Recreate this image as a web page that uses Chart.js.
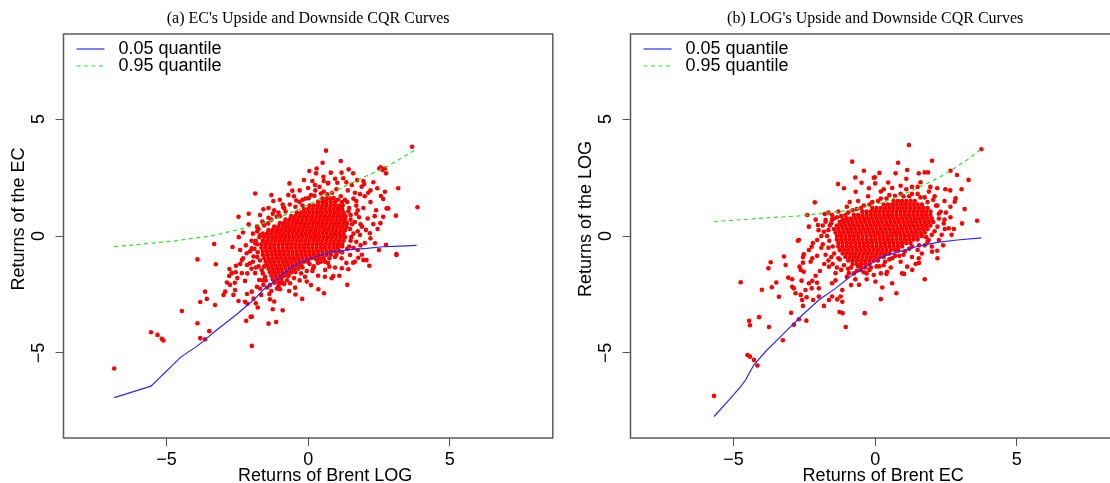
<!DOCTYPE html>
<html lang="en">
<head>
<meta charset="UTF-8">
<title>Upside and Downside CQR Curves</title>
<script src="https://cdn.jsdelivr.net/npm/chart.js"></script>
<style>
  html, body { margin: 0; padding: 0; background: #fff; overflow: hidden; }
  #wrap { position: relative; width: 1110px; height: 483px; overflow: hidden; }
  canvas { position: absolute; top: 0; }
  #chartA { left: 0; }
  #chartB { left: 567px; }
</style>
</head>
<body>
<div id="wrap">
  <canvas id="chartA" width="560" height="483"></canvas>
  <canvas id="chartB" width="620" height="483"></canvas>
</div>

<script>
// tick marks on both axes
const axisTicks = [-5, 0, 5];

// (a) EC against Brent LOG: fitted 0.05 / 0.95 quantile curves
const ecQ05X = [-6.85, -5.55, -4.50, -3.91, -3.23, -2.52, -1.93, -1.59, -1.11, -0.64, -0.29, 0.06, 0.88, 1.48, 2.07, 2.64, 3.24, 3.83];
const ecQ05Y = [-6.91, -6.42, -5.18, -4.70, -4.02, -3.35, -2.74, -2.31, -1.85, -1.38, -1.13, -0.96, -0.67, -0.58, -0.53, -0.46, -0.43, -0.40];
const ecQ95X = [-6.85, -5.8, -4.65, -3.45, -2.5, -1.9, -1.45, -0.3, 0.9, 1.85, 2.75, 3.25, 3.83];
const ecQ95Y = [-0.46, -0.34, -0.2, 0.0, 0.26, 0.45, 0.6, 1.15, 1.9, 2.45, 2.95, 3.3, 3.72];

// (a) scattered returns [x, y]
const ecPoints = [
  [-6.85,-5.67],[-5.55,-4.12],[-5.32,-4.23],[-5.17,-4.40],[-5.11,-4.47],[-4.46,-3.21],[-3.91,-3.73],[-3.81,-4.37],
  [-3.64,-4.42],[-3.49,-4.07],[-3.91,-1.0],[-3.81,-2.82],[-3.64,-2.38],[-3.58,-2.69],[-3.29,-2.95],[-3.32,-0.34],
  [-3.26,-1.21],[-2.67,-0.47],[-1.99,-4.70],[-2.19,-3.63],[-2.03,-3.46],[-1.40,-3.75],[-1.13,-3.68],[-1.25,-3.13],
  [-0.90,-3.18],[-1.78,-3.06],[-1.85,-2.88],[-1.93,-2.68],[-2.23,-2.81],[-2.46,-2.78],[-2.64,-2.52],[-2.99,-2.52],
  [-2.93,-2.38],[-2.76,-2.09],[-2.87,-1.99],[-2.79,-1.71],[-2.70,-1.59],[-2.56,-1.55],[-2.55,-1.27],[-2.40,-1.20],
  [-2.34,-1.59],[-2.23,-1.92],[-2.16,-1.24],[-2.34,-1.03],[-2.78,-1.41],[-2.59,-2.0],[-2.58,-2.31],[-2.16,-2.48],
  [-1.99,-2.38],[-1.81,-2.17],[-1.66,-2.52],[-1.37,-2.48],[-1.35,-2.71],[-0.99,-2.28],[-0.67,-2.35],[-0.46,-2.21],
  [-0.21,-2.69],[-0.11,-1.74],[-0.64,-2.02],[-0.99,-2.02],[-1.58,-2.09],[-1.73,-1.88],[-1.52,-1.74],[-1.64,-1.45],
  [-1.87,-1.59],[-2.05,-1.17],[-1.93,-0.88],[-2.17,-0.74],[-1.99,-0.53],[-1.87,-0.31],[-1.70,0.04],[-1.81,0.40],
  [-1.58,0.54],[0.63,3.65],[3.67,3.82],[1.15,3.21],[0.51,3.13],[1.43,2.85],[0.04,2.78],[0.30,2.89],[0.28,2.68],
  [0.80,2.71],[1.18,2.71],[0.54,2.53],[-0.15,2.39],[-0.66,2.25],[-1.87,1.82],[-0.56,1.94],[0.24,2.18],[0.71,2.28],
  [1.03,2.28],[1.24,2.47],[1.59,2.68],[1.73,2.39],[1.95,2.35],[1.98,2.22],[1.89,2.11],[1.54,2.18],[2.71,2.89],
  [2.56,2.94],[2.75,2.68],[3.18,2.04],[2.44,2.04],[2.71,1.89],[2.57,1.71],[2.65,1.58],[2.12,1.85],[1.83,1.79],
  [2.83,1.18],[3.10,0.87],[3.86,1.23],[2.65,0.82],[2.30,0.51],[2.04,0.26],[2.18,0.12],[1.83,0.04],[2.36,-0.31],
  [3.12,-0.77],[2.75,-0.38],[2.06,-1.03],[2.16,-1.27],[1.77,-0.93],[1.48,-0.81],[1.18,-0.95],[1.65,-1.10],
  [0.89,-1.71],[0.59,-1.74],[1.19,-1.38],[0.75,-1.31],[0.18,-1.38],[0.45,-1.10],[-1.70,0.90],[-1.58,1.14],
  [-1.23,1.50],[-0.88,1.23],[-1.11,0.82],[-1.41,0.54],[-2.46,0.82],[-1.99,-3.45],[0.36,-2.28],[0.56,-2.45],
  [0.83,-1.81],[1.38,-2.09],[1.42,-1.42],[1.59,-1.14],[1.95,-1.03],[2.77,1.18],[3.12,-0.81],[2.51,2.89],[2.63,2.82],
  [1.7,1.5],[1.95,1.2],[2.2,1.45],[2.4,1.1],[2.1,0.75],[1.85,0.5],[2.45,0.3],[1.7,0.95],[2.0,1.7],[2.3,2.3],
  [1.65,1.85],[1.4,1.95],[2.55,0.55],[2.2,-0.1],[1.85,-0.4],[2.5,-0.6],[1.6,-0.5],
  [-0.45,1.25],[-0.3,1.45],[-0.1,1.6],[0.1,1.75],[0.25,1.95],[0.4,2.1],[0.55,1.9],[0.85,1.85],[1.0,2.0],[1.15,1.7],
  [1.3,1.55],[1.45,1.2],[1.5,0.9],[1.55,0.5],[1.6,0.1],[1.5,-0.2],[1.45,-0.45],[-0.8,1.05],[-1.0,0.85],[-1.3,0.7],
  [-1.55,0.45],[-1.8,0.2],[-1.85,-0.2],[-1.9,-0.55],[-1.8,-0.9],[-1.75,-1.3],[-1.6,-1.6],[-1.5,-1.9],[-1.45,-2.2],
  [-1.1,-2.25],[-0.95,-1.75],[-0.7,-1.7],[-0.45,-1.55],[-0.2,-1.35],[0.05,-1.2],[0.3,-1.0],[0.55,-0.95],[0.7,-1.15],
  [1.0,-0.8],[1.2,-0.7],[0.15,-1.5],[-0.3,-1.9],[0.6,1.45],[1.2,1.45],[-0.2,1.3],[0.0,2.05],[0.7,2.25],[1.7,1.3],
  [1.8,0.8],[1.9,0.4],[2.0,-0.3],[1.75,-0.6],[-2.1,0.5],[-2.2,-0.4],[-2.0,-1.4],[-2.3,-0.95],[-0.9,1.35],[-1.2,1.1],
  [-0.5,1.7],
  [-1.75,0.3],[-1.62,0.62],[-1.4,0.78],[-1.25,0.95],[-1.05,1.0],[-0.85,1.2],[-0.65,1.35],[-0.42,1.52],[-0.2,1.55],
  [0.02,1.62],[0.22,1.72],[0.45,1.82],[0.68,1.78],[0.9,1.62],[1.05,1.55],[1.38,1.45],[1.42,1.05],[1.5,0.7],[1.48,0.3],
  [1.52,-0.05],[1.38,-0.55],[1.2,-0.45],[1.1,-0.65],[0.95,-0.9],[0.75,-0.95],[0.6,-1.1],[0.35,-1.15],[0.2,-1.3],
  [-0.05,-1.5],[-0.25,-1.6],[-0.5,-1.8],[-0.75,-1.9],[-0.6,-1.55],[-0.85,-2.05],[-1.05,-2.15],[-1.35,-2.1],[-1.6,-1.9],
  [-1.55,-1.3],[-1.7,-1.05],[-1.78,-0.7],[-1.8,-0.35],[-1.72,-0.05],[-1.95,0.1],[-2.0,-0.2],[-2.05,-0.65],[-1.95,-1.1],
  [-1.85,-1.35],[-1.7,-2.25],[-1.3,-2.35],[-2.15,-1.6],[-2.4,-0.6],[-2.3,0.15],[-2.1,0.95],[-1.4,1.2],[-1.0,1.55],
  [-0.7,1.75],[-0.3,1.95],[0.15,2.35],[0.55,2.35],[0.95,2.45],[1.35,2.3],[1.6,1.6],[1.75,1.1],[1.65,0.6],[1.75,0.2],
  [1.7,-0.25],[1.9,-0.8],[1.35,-1.15],[0.95,-1.35],[0.6,-1.45],[0.35,-1.7],[-0.05,-1.95],[-0.45,-2.5],[0.1,-2.1],
  [1.1,-1.7],[-2.5,-1.8],[-2.15,-2.9],[-1.2,-2.8],[2.35,0.85],[2.2,1.95],[-1.3,1.75],[-2.45,-0.05]
];

// (a) dense centre of the cloud, one row per y value: [y, x, x, ...]
const ecCoreRows = [
  [1.6, 0.5,0.65,0.78],
  [1.45, 0.35,0.5,0.65,0.8,0.95],
  [1.3, 0.05,0.2,0.35,0.5,0.65,0.8,0.95,1.1,1.22],
  [1.15, -0.15,0,0.15,0.3,0.45,0.6,0.75,0.9,1.05,1.2],
  [1.0, -0.4,-0.25,-0.1,0.05,0.2,0.35,0.5,0.65,0.8,0.95,1.1,1.25],
  [0.85, -0.6,-0.45,-0.3,-0.15,0,0.15,0.3,0.45,0.6,0.75,0.9,1.05,1.2,1.32],
  [0.7, -0.8,-0.65,-0.5,-0.35,-0.2,-0.05,0.1,0.25,0.4,0.55,0.7,0.85,1,1.15,1.3],
  [0.55, -1,-0.85,-0.7,-0.55,-0.4,-0.25,-0.1,0.05,0.2,0.35,0.5,0.65,0.8,0.95,1.1,1.25,1.37],
  [0.4, -1.2,-1.05,-0.9,-0.75,-0.6,-0.45,-0.3,-0.15,0,0.15,0.3,0.45,0.6,0.75,0.9,1.05,1.2,1.35],
  [0.25, -1.4,-1.25,-1.1,-0.95,-0.8,-0.65,-0.5,-0.35,-0.2,-0.05,0.1,0.25,0.4,0.55,0.7,0.85,1,1.15,1.3],
  [0.1, -1.6,-1.45,-1.3,-1.15,-1,-0.85,-0.7,-0.55,-0.4,-0.25,-0.1,0.05,0.2,0.35,0.5,0.65,0.8,0.95,1.1,1.25],
  [-0.05, -1.55,-1.4,-1.25,-1.1,-0.95,-0.8,-0.65,-0.5,-0.35,-0.2,-0.05,0.1,0.25,0.4,0.55,0.7,0.85,1,1.15,1.3],
  [-0.2, -1.6,-1.45,-1.3,-1.15,-1,-0.85,-0.7,-0.55,-0.4,-0.25,-0.1,0.05,0.2,0.35,0.5,0.65,0.8,0.95,1.1,1.25],
  [-0.35, -1.65,-1.5,-1.35,-1.2,-1.05,-0.9,-0.75,-0.6,-0.45,-0.3,-0.15,0,0.15,0.3,0.45,0.6,0.75,0.9,1.05,1.2],
  [-0.5, -1.65,-1.5,-1.35,-1.2,-1.05,-0.9,-0.75,-0.6,-0.45,-0.3,-0.15,0,0.15,0.3,0.45,0.6,0.75,0.9,1.05],
  [-0.65, -1.6,-1.45,-1.3,-1.15,-1,-0.85,-0.7,-0.55,-0.4,-0.25,-0.1,0.05,0.2,0.35,0.5,0.65,0.8,0.95],
  [-0.8, -1.6,-1.45,-1.3,-1.15,-1,-0.85,-0.7,-0.55,-0.4,-0.25,-0.1,0.05,0.2,0.35,0.5,0.65,0.8],
  [-0.95, -1.55,-1.4,-1.25,-1.1,-0.95,-0.8,-0.65,-0.5,-0.35,-0.2,-0.05,0.1,0.25,0.4],
  [-1.1, -1.5,-1.35,-1.2,-1.05,-0.9,-0.75,-0.6,-0.45,-0.3,-0.15,0],
  [-1.25, -1.45,-1.3,-1.15,-1,-0.85,-0.7,-0.55,-0.4,-0.25],
  [-1.4, -1.4,-1.25,-1.1,-0.95,-0.8,-0.65,-0.5,-0.35],
  [-1.55, -1.35,-1.2,-1.05,-0.9,-0.75,-0.6],
  [-1.7, -1.3,-1.15,-1,-0.85,-0.7],
  [-1.85, -1.25,-1.1,-0.95],
  [-2.0, -1.2,-1.05,-0.9]
];

// (b) LOG against Brent EC: fitted 0.05 / 0.95 quantile curves
const logQ05X = [-5.69, -5.16, -4.75, -4.57, -4.45, -4.28, -3.87, -3.28, -2.57, -1.99, -1.40, -0.81, -0.22, 0.25, 0.9, 1.5, 2.2, 2.9, 3.75];
const logQ05Y = [-7.72, -7.01, -6.44, -6.15, -5.87, -5.51, -4.94, -4.23, -3.38, -2.74, -2.24, -1.67, -1.24, -0.88, -0.66, -0.44, -0.27, -0.17, -0.08];
const logQ95X = [-5.69, -4.7, -3.75, -2.7, -1.75, -0.9, -0.3, 0.3, 0.84, 1.4, 2.0, 2.4, 2.8, 3.3, 3.75];
const logQ95Y = [0.62, 0.70, 0.78, 0.86, 0.98, 1.1, 1.25, 1.45, 1.7, 2.0, 2.35, 2.6, 2.9, 3.3, 3.72];

// (b) scattered returns [x, y]
const logPoints = [
  [-5.69,-6.84],[-4.51,-5.09],[-4.42,-5.16],[-4.28,-5.30],[-4.16,-5.54],[-4.75,-1.98],[-4.45,-3.63],[-4.42,-3.82],
  [-4.10,-3.47],[-3.75,-3.89],[-3.26,-4.46],[-2.97,-3.28],[-2.87,-3.80],[-2.69,-3.56],[-2.43,-3.62],[-1.04,-3.89],
  [-1.26,-3.25],[-0.37,-3.30],[-3.69,-1.12],[-3.77,-1.38],[-3.65,-2.19],[-3.49,-1.99],[-3.22,-0.88],[-3.16,-1.24],
  [-2.73,-0.20],[-2.34,0.40],[-2.02,0.47],[-2.13,1.44],[-3.07,-1.78],[-2.93,-1.85],[-2.87,-2.24],[-2.81,-2.45],
  [-2.63,-2.52],[-2.58,-2.74],[-2.55,-2.99],[-2.42,-2.62],[-2.19,-2.74],[-1.99,-2.59],[-1.81,-2.99],[-1.63,-2.74],
  [-1.34,-2.71],[-1.22,-2.59],[-1.16,-2.81],[-1.52,-2.59],[-2.60,-1.91],[-2.46,-2.31],[-2.24,-2.24],[-2.67,-1.31],
  [-2.52,-1.53],[-2.22,-1.92],[-2.05,-2.0],[-2.10,-1.70],[-2.52,-0.78],[-2.24,-0.46],[-2.55,-1.14],[-1.75,0.68],
  [-1.52,0.90],[1.19,3.89],[3.75,3.71],[-0.81,3.18],[0.81,3.13],[2.01,3.22],[-0.40,2.79],[0.72,2.68],[1.13,2.82],
  [1.54,2.68],[1.75,2.72],[1.87,2.72],[2.66,2.79],[2.89,2.61],[-0.01,2.51],[0.46,2.29],[-1.31,2.22],[-0.48,2.28],
  [-0.22,2.04],[-0.69,1.89],[-1.10,2.04],[-1.78,0.94],[-1.52,0.71],[-1.14,0.71],[2.48,2.0],[2.19,2.04],[2.81,1.47],
  [3.16,1.15],[2.66,0.80],[3.07,0.54],[3.60,0.65],[2.46,0.30],[2.78,0.30],[2.19,-0.63],[1.89,-0.17],[1.43,-1.20],
  [1.13,-1.31],[1.75,-1.85],[0.42,-1.53],[-0.05,-1.67],[-0.05,2.49],[-2.69,-0.17],[0.75,-2.45],[1.02,-1.62],
  [0.40,-1.62],[2.66,1.25],[2.84,1.61],[2.31,1.04],[2.42,0.54],[2.60,0.33],[2.25,-0.17],[2.01,-0.67],[1.54,-0.95],
  [1.31,-1.45],[0.60,-2.02],[0.01,-1.95],[-0.57,-2.09],[-1.16,-2.31],[-1.52,-2.02],[-1.99,-2.24],[-2.34,-2.02],
  [-2.93,-2.17],[-2.63,-1.45],[-2.28,-1.10],[-2.34,-0.60],[-2.05,-0.17],[-1.81,0.18],[-1.75,0.61],[-2.22,-0.95],
  [-1.63,-1.31],[-1.40,-1.59],[-0.93,-1.59],[-0.51,-1.45],
  [-1.6,0.45],[-1.7,0.0],[-1.65,-0.5],[-1.55,-0.9],[-1.5,-1.2],[-1.25,-1.0],[-1.2,-1.45],[-0.95,-1.4],[-0.75,-1.6],
  [-0.6,-1.3],[-0.3,-1.6],[-0.15,-1.35],[0.05,-1.3],[0.3,-1.25],[0.5,-1.0],[0.7,-0.85],[1.0,-0.8],[1.2,-0.55],
  [1.5,-0.6],[1.75,-0.4],[1.8,-0.05],[2.1,0.2],[2.25,0.75],[2.2,1.3],[2.05,1.55],[1.75,1.65],[1.5,1.8],[1.2,1.7],
  [0.9,1.8],[0.5,1.75],[0.2,1.6],[-0.1,1.45],[-0.4,1.3],[-0.65,1.15],[-0.95,1.0],[-1.2,0.85],[-1.45,0.75],[0.3,2.0],
  [0.9,2.15],[1.3,2.1],[1.9,1.9],[-0.9,1.45],[-1.9,-0.5],[-2.0,0.25],[2.5,1.0],[2.4,-0.4],[0.0,2.25],[1.6,2.3],
  [-1.8,-1.2],
  [-1.65,0.25],[-1.62,-0.2],[-1.5,-0.45],[-1.45,-0.75],[-1.3,-0.95],[-1.1,-1.25],[-0.85,-1.35],[-0.65,-1.5],[-0.4,-1.55],
  [-0.2,-1.45],[0.15,-1.3],[0.35,-1.1],[0.6,-0.95],[0.85,-0.85],[1.05,-0.65],[1.3,-0.45],[1.55,-0.4],[1.85,-0.25],
  [2.0,0.05],[2.2,0.4],[2.25,0.95],[2.15,1.3],[2.1,1.7],[1.85,1.45],[1.6,1.65],[1.3,1.8],[1.0,1.7],[0.7,1.72],[0.4,1.6],
  [0.1,1.5],[-0.2,1.35],[-0.5,1.2],[-0.8,1.1],[-1.05,0.9],[-1.35,0.8],[-1.55,0.55],[-1.85,0.45],[-1.9,0.0],[-1.85,-0.35],
  [-1.75,-0.8],[-1.65,-1.05],[-1.35,-1.35],[-1.0,-1.75],[-0.7,-1.85],[-0.3,-1.85],[0.2,-1.6],[0.55,-1.35],[0.9,-1.1],
  [1.3,-0.9],[1.65,-0.75],[2.0,-0.45],[2.35,0.05],[2.45,0.7],[2.45,1.5],[1.95,2.1],[1.5,2.1],[1.1,2.0],[0.6,2.05],
  [0.2,1.9],[-0.25,1.7],[-0.6,1.5],[-1.0,1.25],[-1.3,1.05],[-1.65,1.0],[-2.1,0.7],[-2.2,-0.3],[-2.05,-0.85],[-1.95,-1.5],
  [-1.4,-1.9],[-0.85,-2.1],[0.25,-2.2],[0.95,-1.6],[1.55,-1.15],[2.2,-0.95],[2.7,0.05],[2.65,1.95],[1.1,2.45],[0.15,2.7],
  [-0.7,2.5],[-2.4,0.9],[-2.55,-0.9],[-1.15,-3.3],[0.2,-2.7],[-3.4,-2.6],[-4.0,-2.3],[3.3,2.4],[3.05,2.0]
];

// (b) dense centre of the cloud, one row per y value: [y, x, x, ...]
const logCoreRows = [
  [1.5, 0.65,0.8,0.95,1.1,1.25,1.4],
  [1.35, 0.3,0.45,0.6,0.75,0.9,1.05,1.2,1.35,1.5,1.65],
  [1.2, -0.1,0.05,0.2,0.35,0.5,0.65,0.8,0.95,1.1,1.25,1.4,1.55,1.7,1.85],
  [1.05, -0.45,-0.3,-0.15,0,0.15,0.3,0.45,0.6,0.75,0.9,1.05,1.2,1.35,1.5,1.65,1.8,1.95],
  [0.9, -0.75,-0.6,-0.45,-0.3,-0.15,0,0.15,0.3,0.45,0.6,0.75,0.9,1.05,1.2,1.35,1.5,1.65,1.8,1.95],
  [0.75, -1,-0.85,-0.7,-0.55,-0.4,-0.25,-0.1,0.05,0.2,0.35,0.5,0.65,0.8,0.95,1.1,1.25,1.4,1.55,1.7,1.85,2],
  [0.6, -1.25,-1.1,-0.95,-0.8,-0.65,-0.5,-0.35,-0.2,-0.05,0.1,0.25,0.4,0.55,0.7,0.85,1,1.15,1.3,1.45,1.6,1.75,1.9,2.05],
  [0.45, -1.35,-1.2,-1.05,-0.9,-0.75,-0.6,-0.45,-0.3,-0.15,0,0.15,0.3,0.45,0.6,0.75,0.9,1.05,1.2,1.35,1.5,1.65,1.8,1.95],
  [0.3, -1.45,-1.3,-1.15,-1,-0.85,-0.7,-0.55,-0.4,-0.25,-0.1,0.05,0.2,0.35,0.5,0.65,0.8,0.95,1.1,1.25,1.4,1.55,1.7,1.85],
  [0.15, -1.4,-1.25,-1.1,-0.95,-0.8,-0.65,-0.5,-0.35,-0.2,-0.05,0.1,0.25,0.4,0.55,0.7,0.85,1,1.15,1.3,1.45,1.6,1.75],
  [0, -1.35,-1.2,-1.05,-0.9,-0.75,-0.6,-0.45,-0.3,-0.15,0,0.15,0.3,0.45,0.6,0.75,0.9,1.05,1.2,1.35,1.5,1.65],
  [-0.15, -1.35,-1.2,-1.05,-0.9,-0.75,-0.6,-0.45,-0.3,-0.15,0,0.15,0.3,0.45,0.6,0.75,0.9,1.05,1.2,1.35,1.5],
  [-0.3, -1.3,-1.15,-1,-0.85,-0.7,-0.55,-0.4,-0.25,-0.1,0.05,0.2,0.35,0.5,0.65,0.8,0.95,1.1,1.25],
  [-0.45, -1.3,-1.15,-1,-0.85,-0.7,-0.55,-0.4,-0.25,-0.1,0.05,0.2,0.35,0.5,0.65,0.8,0.95],
  [-0.6, -1.25,-1.1,-0.95,-0.8,-0.65,-0.5,-0.35,-0.2,-0.05,0.1,0.25,0.4,0.55,0.7,0.82],
  [-0.75, -1.15,-1,-0.85,-0.7,-0.55,-0.4,-0.25,-0.1,0.05,0.2,0.35,0.5],
  [-0.9, -1.05,-0.9,-0.75,-0.6,-0.45,-0.3,-0.15,0,0.15,0.3],
  [-1.05, -0.95,-0.8,-0.65,-0.5,-0.35,-0.2,-0.05,0.1],
  [-1.2, -0.8,-0.65,-0.5,-0.35,-0.2],
  [-1.35, -0.5,-0.35]
];

const Q05_COLOR = 'rgb(40, 40, 255)';
const Q95_COLOR = 'rgb(40, 225, 40)';
const POINT_COLOR = '#ff0000';

Chart.defaults.font.family = '"Liberation Sans", Arial, sans-serif';
Chart.defaults.color = '#000';

function tickText(v) {
  return v < 0 ? '\u2212' + Math.abs(v) : String(v);
}

function curve(xs, ys) {
  return xs.map((x, i) => ({ x: x, y: ys[i] }));
}

function cloud(points, rows) {
  const out = points.map(p => ({ x: p[0], y: p[1] }));
  rows.forEach(r => {
    for (let i = 1; i < r.length; i++) out.push({ x: r[i], y: r[0] });
  });
  return out;
}

// frame, title, rotated y labels, axis titles and the legend (R base graphics look)
const panelDecor = {
  id: 'panelDecor',
  afterDraw(chart, args, opts) {
    const { ctx, chartArea: a } = chart;
    const xs = chart.scales.x, ys = chart.scales.y;
    ctx.save();

    ctx.strokeStyle = '#5a5a5a';
    ctx.lineWidth = 1.5;
    ctx.strokeRect(a.left, a.top, a.right - a.left, a.bottom - a.top);

    ctx.fillStyle = '#000';
    ctx.textAlign = 'center';
    ctx.textBaseline = 'middle';
    ctx.font = '16px "Liberation Serif", "Times New Roman", serif';
    ctx.fillText(opts.title, xs.getPixelForValue(0), 19);

    ctx.font = '18px "Liberation Sans", Arial, sans-serif';
    axisTicks.forEach(v => {
      ctx.save();
      ctx.translate(a.left - 24, ys.getPixelForValue(v));
      ctx.rotate(-Math.PI / 2);
      ctx.fillText(tickText(v), 0, 0);
      ctx.restore();
    });

    ctx.fillText(opts.xTitle, xs.getPixelForValue(0) + opts.xTitleShift, 476);
    ctx.save();
    ctx.translate(a.left - 44, 219);
    ctx.rotate(-Math.PI / 2);
    ctx.fillText(opts.yTitle, 0, 0);
    ctx.restore();

    // legend, no box
    const lx = a.left + 13, tx = a.left + 55;
    ctx.lineWidth = 1.2;
    ctx.strokeStyle = Q05_COLOR;
    ctx.beginPath(); ctx.moveTo(lx, 49); ctx.lineTo(lx + 28, 49); ctx.stroke();
    ctx.strokeStyle = Q95_COLOR;
    ctx.setLineDash([4, 3.5]);
    ctx.beginPath(); ctx.moveTo(lx, 66); ctx.lineTo(lx + 28, 66); ctx.stroke();
    ctx.setLineDash([]);
    ctx.textAlign = 'left';
    ctx.fillText('0.05 quantile', tx, 49);
    ctx.fillText('0.95 quantile', tx, 66);

    ctx.restore();
  }
};

function makeChart(id, q05, q95, points, padRight, decor) {
  const axis = (fit) => ({
    type: 'linear',
    min: -8.64,
    max: 8.64,
    afterBuildTicks: s => { s.ticks = axisTicks.map(v => ({ value: v })); },
    afterFit: fit,
    border: { display: false },
    grid: { drawOnChartArea: false, drawTicks: true, tickLength: 8, color: '#555', lineWidth: 1 }
  });

  const xAxis = axis(s => { s.height = 45; });
  xAxis.ticks = { font: { size: 18 }, color: '#000', padding: 3, maxRotation: 0, autoSkip: false, callback: v => tickText(v) };
  const yAxis = axis(s => { s.width = 63.5; });
  yAxis.ticks = { display: false };

  return new Chart(document.getElementById(id), {
    type: 'scatter',
    data: {
      datasets: [
        { label: '0.05 quantile', data: q05, showLine: true, borderColor: Q05_COLOR, borderWidth: 1.2,
          pointRadius: 0, fill: false, tension: 0, order: 0 },
        { label: '0.95 quantile', data: q95, showLine: true, borderColor: Q95_COLOR, borderWidth: 1.2,
          borderDash: [4, 3.5], pointRadius: 0, fill: false, tension: 0, order: 0 },
        { label: 'returns', data: points, backgroundColor: POINT_COLOR, borderWidth: 0,
          pointRadius: 2.3, pointHoverRadius: 2.3, order: 1 }
      ]
    },
    options: {
      responsive: false,
      animation: false,
      events: [],
      layout: { padding: { top: 34, right: padRight, left: 0, bottom: 0 } },
      scales: { x: xAxis, y: yAxis },
      plugins: {
        legend: { display: false },
        tooltip: { enabled: false },
        panelDecor: decor
      }
    },
    plugins: [panelDecor]
  });
}

makeChart('chartA',
  curve(ecQ05X, ecQ05Y), curve(ecQ95X, ecQ95Y), cloud(ecPoints, ecCoreRows), 7.2,
  { title: "(a) EC's Upside and Downside CQR Curves", xTitle: 'Returns of Brent LOG', xTitleShift: 17, yTitle: 'Returns of the EC' });

// the right panel runs past the page edge, so its frame is cut off there
makeChart('chartB',
  curve(logQ05X, logQ05Y), curve(logQ95X, logQ95Y), cloud(logPoints, logCoreRows), 67.2,
  { title: "(b) LOG's Upside and Downside CQR Curves", xTitle: 'Returns of Brent EC', xTitleShift: 8, yTitle: 'Returns of the LOG' });
</script>
</body>
</html>
